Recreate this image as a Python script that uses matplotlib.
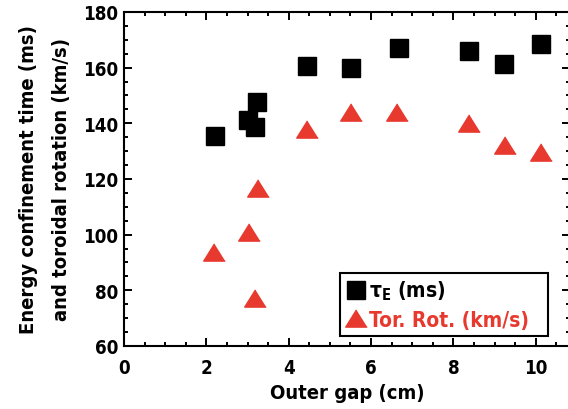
import matplotlib.pyplot as plt
from matplotlib.ticker import MultipleLocator

plt.rcParams['font.family'] = ['DejaVu Sans']
plt.rcParams['font.stretch'] = 'condensed'
plt.rcParams['font.weight'] = 'bold'
plt.rcParams['mathtext.fontset'] = 'custom'
plt.rcParams['mathtext.rm'] = 'DejaVu Sans:bold:stretch=condensed'
plt.rcParams['mathtext.it'] = 'DejaVu Sans:bold:stretch=condensed'
plt.rcParams['mathtext.default'] = 'rm'

# Energy confinement time (ms) vs outer gap (cm)
gap_tau = [2.20, 3.02, 3.17, 3.24, 4.44, 5.52, 6.68, 8.39, 9.23, 10.14]
tau_e = [135.6, 141.3, 138.6, 147.8, 160.7, 159.9, 167.0, 166.0, 161.2, 168.5]

# Toroidal rotation (km/s) vs outer gap (cm)
gap_rot = [2.19, 3.04, 3.26, 3.19, 4.44, 5.52, 6.64, 8.39, 9.26, 10.14]
tor_rot = [93.7, 100.8, 116.6, 77.1, 138.0, 144.2, 144.2, 140.1, 132.3, 129.8]

red = '#e8392f'
tri = [(0, 0.8), (-1, -0.8), (1, -0.8)]

fig = plt.figure(figsize=(5.68, 4.10), dpi=100)
ax = fig.add_axes([0.2183, 0.1537, 0.785, 0.8146])

ax.plot(gap_tau, tau_e, linestyle='none', marker='s', ms=13.5, color='black',
        label=r'$\tau_E$ (ms)')
ax.plot(gap_rot, tor_rot, linestyle='none', marker=tri, ms=15.5, color=red,
        label='Tor. Rot. (km/s)')

ax.set_xlim(0, 10.83)
ax.set_ylim(60, 180)
ax.xaxis.set_major_locator(MultipleLocator(2))
ax.xaxis.set_minor_locator(MultipleLocator(0.5))
ax.yaxis.set_major_locator(MultipleLocator(20))
ax.yaxis.set_minor_locator(MultipleLocator(5))
ax.tick_params(which='both', direction='in', top=True, right=True, width=1.4,
               labelsize=13.5, pad=4)
ax.tick_params(axis='x', which='both', pad=9)
ax.tick_params(which='major', length=5.5)
ax.tick_params(which='minor', length=3)
for s in ax.spines.values():
    s.set_linewidth(1.5)

ax.set_xlabel('Outer gap (cm)', fontsize=14.5, fontweight='bold', labelpad=4)
ax.set_ylabel('Energy confinement time (ms)\nand toroidal rotation (km/s)',
              fontsize=14.5, fontweight='bold', labelpad=9, linespacing=1.95)

leg = ax.legend(loc='lower left', bbox_to_anchor=(0.485, 0.03, 0.467, 0.2),
                mode='expand', borderaxespad=0,
                fancybox=False, edgecolor='black', framealpha=1, fontsize=15,
                handlelength=0.9, handletextpad=0.2, borderpad=0.3,
                labelspacing=0.35, markerscale=1.0)
leg.get_frame().set_linewidth(1.5)
leg.get_texts()[1].set_color(red)

fig.savefig('out.png', dpi=100)
